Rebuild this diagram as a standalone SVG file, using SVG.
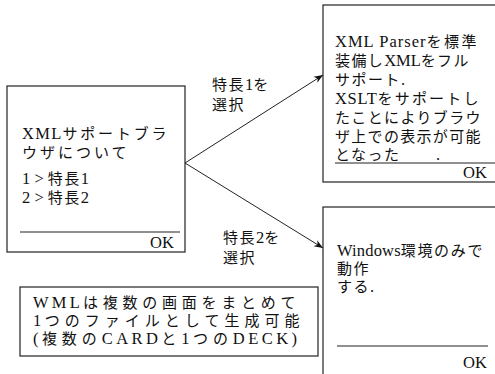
<svg xmlns="http://www.w3.org/2000/svg" width="495" height="374" viewBox="0 0 495 374">
  <style>
    .box { fill: #fff; stroke: #222; stroke-width: 1.2; }
    .rule { stroke: #222; stroke-width: 1.2; }
    .wire { stroke: #222; stroke-width: 1; fill: none; }
    text { font-family: "Liberation Serif", "DejaVu Serif", "Noto Sans CJK JP", serif; font-size: 15px; fill: #111; letter-spacing: 1.5px; }
    .lat { font-family: "Liberation Serif", "Times New Roman", serif; font-size: 16.5px; letter-spacing: 0; }
  </style>
  <defs>
    <marker id="head" viewBox="0 0 10 10" refX="10" refY="5" markerWidth="9" markerHeight="9" markerUnits="userSpaceOnUse" orient="auto">
      <path d="M0,1 L10,5 L0,9 L3,5 Z" fill="#111"/>
    </marker>
  </defs>
  <rect width="495" height="374" fill="#fff"/>

  <!-- menu screen -->
  <g id="menu">
    <rect class="box" x="7" y="86" width="178" height="166"/>
    <text x="22" y="138.5" textLength="146" lengthAdjust="spacing"><tspan class="lat">XML</tspan>サポートブラ</text>
    <text x="22" y="157.5" textLength="106" lengthAdjust="spacing">ウザについて</text>
    <text x="22" y="183.5"><tspan class="lat">1 &gt; </tspan>特長<tspan class="lat">1</tspan></text>
    <text x="22" y="202.5"><tspan class="lat">2 &gt; </tspan>特長<tspan class="lat">2</tspan></text>
    <line class="rule" x1="20" y1="232" x2="180" y2="232"/>
    <text x="150" y="248" class="lat">OK</text>
  </g>

  <!-- feature 1 screen -->
  <g id="feature1">
    <rect class="box" x="323" y="5" width="190" height="177"/>
    <text x="335" y="47" textLength="143" lengthAdjust="spacing"><tspan class="lat">XML Parser</tspan>を標準</text>
    <text x="335" y="66" textLength="135" lengthAdjust="spacing">装備し<tspan class="lat">XML</tspan>をフル</text>
    <text x="335" y="85">サポート<tspan class="lat">.</tspan></text>
    <text x="335" y="104" textLength="145" lengthAdjust="spacing"><tspan class="lat">XSLT</tspan>をサポートし</text>
    <text x="335" y="123" textLength="147" lengthAdjust="spacing">たことによりブラウ</text>
    <text x="335" y="142" textLength="147" lengthAdjust="spacing">ザ上での表示が可能</text>
    <text x="335" y="160">となった</text>
    <text x="436" y="160" class="lat">.</text>
    <line class="rule" x1="335" y1="163" x2="495" y2="163"/>
    <text x="463" y="178" class="lat">OK</text>
  </g>

  <!-- feature 2 screen -->
  <g id="feature2">
    <rect class="box" x="323" y="207" width="190" height="190"/>
    <text x="337" y="256" textLength="147" lengthAdjust="spacing"><tspan class="lat">Windows</tspan>環境のみで</text>
    <text x="337" y="274">動作</text>
    <text x="337" y="292">する<tspan class="lat">.</tspan></text>
    <line class="rule" x1="337" y1="346" x2="488" y2="346"/>
    <text x="463" y="368" class="lat">OK</text>
  </g>

  <!-- note -->
  <g id="note">
    <rect class="box" x="20" y="287" width="298" height="69"/>
    <text x="33" y="308" textLength="264" lengthAdjust="spacing"><tspan class="lat">WML</tspan>は複数の画面をまとめて</text>
    <text x="33" y="326" textLength="268" lengthAdjust="spacing"><tspan class="lat">1</tspan>つのファイルとして生成可能</text>
    <text x="33" y="344" textLength="264" lengthAdjust="spacing"><tspan class="lat">(</tspan>複数の<tspan class="lat">CARD</tspan>と<tspan class="lat">1</tspan>つの<tspan class="lat">DECK)</tspan></text>
  </g>

  <!-- connectors -->
  <g id="connectors">
    <line class="wire" x1="185" y1="163" x2="323" y2="75" marker-end="url(#head)"/>
    <line class="wire" x1="185" y1="163" x2="323" y2="248" marker-end="url(#head)"/>
    <text x="212" y="90">特長<tspan class="lat">1</tspan>を</text>
    <text x="212" y="110">選択</text>
    <text x="223" y="243">特長<tspan class="lat">2</tspan>を</text>
    <text x="223" y="263">選択</text>
  </g>
</svg>
